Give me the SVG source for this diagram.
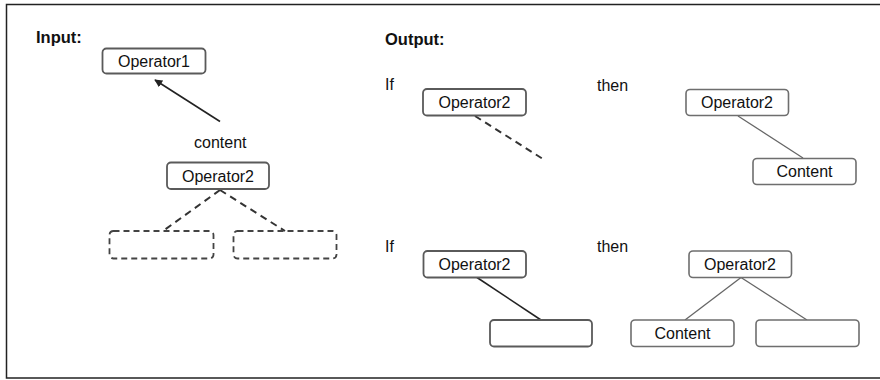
<svg xmlns="http://www.w3.org/2000/svg" width="880" height="380" viewBox="0 0 880 380">
  <defs>
    <style>
      .frame { fill: #ffffff; stroke: #222222; stroke-width: 1.5; }
      .head { font-family: "Liberation Sans", Arial, sans-serif; font-weight: bold; font-size: 16.5px; fill: #111111; }
      .lbl { font-family: "Liberation Sans", Arial, sans-serif; font-size: 16px; fill: #111111; }
      .box { fill: #ffffff; stroke: #5a5a5a; stroke-width: 1.8; }
      .box-lite { fill: #ffffff; stroke: #6e6e6e; stroke-width: 1.6; }
      .box-dash { fill: none; stroke: #444444; stroke-width: 1.8; stroke-dasharray: 6 4; }
      .node-text { font-family: "Liberation Sans", Arial, sans-serif; font-size: 16px; fill: #111111; text-anchor: middle; }
      .edge-solid { fill: none; stroke: #222222; stroke-width: 1.6; }
      .edge-thin { fill: none; stroke: #666666; stroke-width: 1.3; }
      .edge-dash { fill: none; stroke: #333333; stroke-width: 2; stroke-dasharray: 7 5; }
    </style>
    <marker id="arrow" viewBox="0 0 10 10" refX="9" refY="5" markerWidth="8" markerHeight="8" markerUnits="userSpaceOnUse" orient="auto">
      <path d="M0,0 L10,5 L0,10 z" fill="#222222"/>
    </marker>
  </defs>

  <!-- outer frame (right edge runs past the canvas) -->
  <rect class="frame" x="6.5" y="4.5" width="880" height="373.5"/>

  <!-- section headings and captions -->
  <text class="head" x="36" y="43">Input:</text>
  <text class="head" x="385" y="45">Output:</text>
  <text class="lbl" x="385" y="90">If</text>
  <text class="lbl" x="597" y="91">then</text>
  <text class="lbl" x="385" y="252">If</text>
  <text class="lbl" x="597" y="252">then</text>
  <text class="lbl" x="194" y="147.5">content</text>

  <!-- connectors -->
  <g id="connectors">
    <line class="edge-solid" x1="220" y1="121.5" x2="155" y2="80" marker-end="url(#arrow)"/>
    <line class="edge-dash" x1="220" y1="190" x2="163" y2="231"/>
    <line class="edge-dash" x1="220" y1="190" x2="285" y2="231"/>
    <line class="edge-dash" x1="475" y1="116" x2="543" y2="159"/>
    <line class="edge-thin" x1="738" y1="116" x2="803" y2="158"/>
    <line class="edge-solid" x1="477" y1="277.5" x2="541" y2="320"/>
    <line class="edge-thin" x1="741" y1="277.5" x2="685" y2="320"/>
    <line class="edge-thin" x1="741" y1="277.5" x2="807" y2="320"/>
  </g>

  <!-- input side -->
  <g id="in-operator1">
    <rect class="box" x="102.5" y="48.5" width="103" height="25" rx="4"/>
    <text class="node-text" x="154" y="66.5">Operator1</text>
  </g>
  <g id="in-operator2">
    <rect class="box" x="167" y="162.5" width="102" height="26.5" rx="4"/>
    <text class="node-text" x="218" y="181.5">Operator2</text>
  </g>
  <g id="in-child-left">
    <rect class="box-dash" x="109.5" y="231" width="104" height="27.5" rx="4"/>
  </g>
  <g id="in-child-right">
    <rect class="box-dash" x="233.5" y="231" width="103" height="27.5" rx="4"/>
  </g>

  <!-- output, first case -->
  <g id="if1-operator2">
    <rect class="box" x="423" y="89" width="103" height="26.5" rx="4"/>
    <text class="node-text" x="474.5" y="108">Operator2</text>
  </g>
  <g id="then1-operator2">
    <rect class="box-lite" x="686" y="89.5" width="102.5" height="26" rx="4"/>
    <text class="node-text" x="737" y="108">Operator2</text>
  </g>
  <g id="then1-content">
    <rect class="box-lite" x="753" y="158.5" width="103" height="26" rx="4"/>
    <text class="node-text" x="804.5" y="177">Content</text>
  </g>

  <!-- output, second case -->
  <g id="if2-operator2">
    <rect class="box" x="423.5" y="251" width="102.5" height="26.5" rx="4"/>
    <text class="node-text" x="474.5" y="270">Operator2</text>
  </g>
  <g id="if2-child">
    <rect class="box" x="490" y="320" width="102" height="26.5" rx="4"/>
  </g>
  <g id="then2-operator2">
    <rect class="box-lite" x="689" y="251" width="102.5" height="26.5" rx="4"/>
    <text class="node-text" x="740" y="270">Operator2</text>
  </g>
  <g id="then2-content">
    <rect class="box-lite" x="631" y="320" width="103" height="26.5" rx="4"/>
    <text class="node-text" x="682.5" y="339">Content</text>
  </g>
  <g id="then2-child">
    <rect class="box-lite" x="756" y="320" width="103" height="26.5" rx="4"/>
  </g>
</svg>
